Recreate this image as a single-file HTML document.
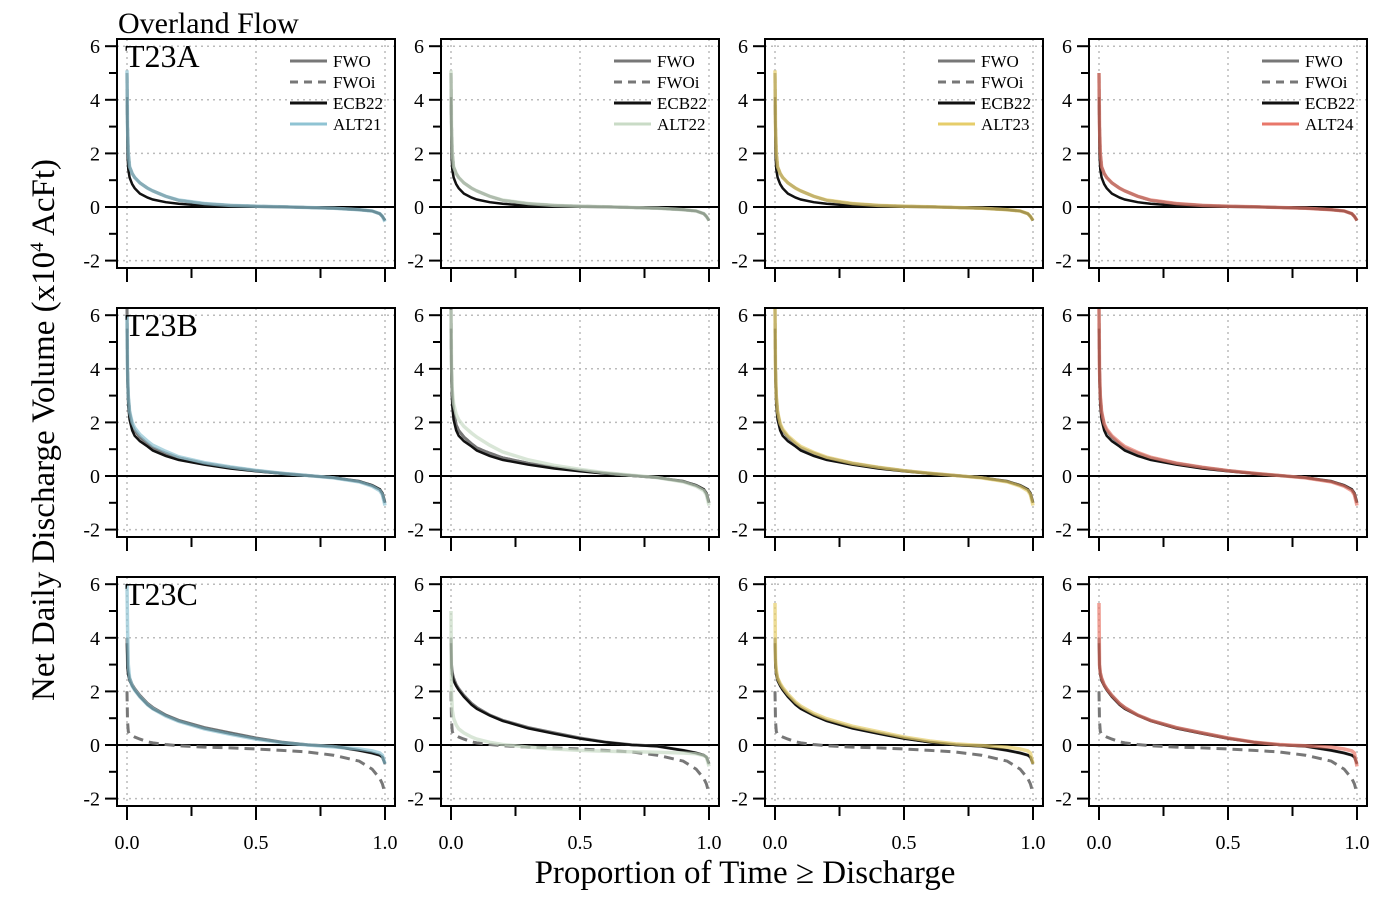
<!DOCTYPE html>
<html><head><meta charset="utf-8"><style>
body{margin:0;background:#fff}
svg{display:block;font-family:"Liberation Serif",serif}
text{font-family:"Liberation Serif",serif}
</style></head><body>
<svg id="c" width="1400" height="900"></svg>
<script>
const P = [0,0.002,0.005,0.01,0.02,0.03,0.05,0.08,0.1,0.15,0.2,0.3,0.4,0.5,0.6,0.7,0.8,0.9,0.95,0.98,0.99,1.0];
const rowNames = ["T23A","T23B","T23C"];
const altNames = ["ALT21","ALT22","ALT23","ALT24"];
const altColors = ["#8fc3d3","#c9dbc6","#e6cd6a","#e8776a"];
const yTicks = [-2,0,2,4,6];
const xTicks = [0,0.25,0.5,0.75,1];
const xLabels = ["0.0","","0.5","","1.0"];
// row 1 (T23A)
const fwoA  = [5.0,3.0,2.0,1.5,1.25,1.1,0.9,0.7,0.6,0.4,0.25,0.12,0.06,0.03,0.01,-0.02,-0.05,-0.1,-0.15,-0.25,-0.35,-0.5];
const fwoiA = [5.0,3.0,2.0,1.5,1.25,1.1,0.9,0.7,0.6,0.4,0.25,0.12,0.06,0.03,0.01,-0.02,-0.05,-0.1,-0.15,-0.25,-0.35,-0.5];
const ecbA  = [4.1,2.0,1.4,1.1,0.85,0.7,0.5,0.35,0.28,0.18,0.12,0.05,0.02,0.01,0,-0.02,-0.05,-0.1,-0.15,-0.25,-0.35,-0.5];
const altA  = [
 [5.1,3.0,2.0,1.5,1.25,1.1,0.9,0.7,0.6,0.4,0.26,0.13,0.06,0.03,0.01,-0.02,-0.05,-0.1,-0.15,-0.25,-0.35,-0.55],
 [5.1,3.0,2.0,1.5,1.25,1.1,0.9,0.7,0.6,0.4,0.26,0.13,0.06,0.03,0.01,-0.02,-0.05,-0.1,-0.15,-0.25,-0.35,-0.5],
 [5.1,3.0,2.0,1.5,1.25,1.1,0.9,0.7,0.6,0.4,0.26,0.13,0.06,0.03,0.01,-0.02,-0.05,-0.1,-0.15,-0.25,-0.35,-0.5],
 [5.0,3.0,2.0,1.5,1.25,1.1,0.9,0.7,0.6,0.4,0.26,0.13,0.06,0.03,0.01,-0.02,-0.05,-0.1,-0.15,-0.25,-0.35,-0.5]];
// row 2 (T23B)
const fwoB  = [6.3,4.0,3.0,2.4,1.9,1.7,1.45,1.2,1.05,0.85,0.68,0.47,0.32,0.2,0.1,0.02,-0.06,-0.2,-0.35,-0.5,-0.65,-1.0];
const fwoiB = [6.3,4.0,3.0,2.4,1.9,1.7,1.45,1.2,1.05,0.85,0.68,0.47,0.32,0.2,0.1,0.02,-0.06,-0.2,-0.35,-0.5,-0.65,-1.0];
const ecbB  = [5.5,3.5,2.6,2.1,1.7,1.5,1.3,1.1,0.95,0.75,0.6,0.42,0.28,0.18,0.09,0.01,-0.06,-0.2,-0.35,-0.5,-0.65,-1.0];
const altB  = [
 [6.0,4.0,3.0,2.4,2.0,1.8,1.55,1.3,1.15,0.92,0.72,0.5,0.34,0.21,0.1,0.02,-0.07,-0.22,-0.38,-0.55,-0.7,-1.1],
 [6.2,4.2,3.2,2.7,2.3,2.1,1.85,1.6,1.45,1.15,0.9,0.6,0.4,0.25,0.12,0.03,-0.06,-0.22,-0.38,-0.55,-0.7,-1.1],
 [6.3,4.0,3.0,2.4,1.95,1.75,1.5,1.25,1.1,0.88,0.7,0.48,0.33,0.2,0.1,0.02,-0.07,-0.22,-0.38,-0.55,-0.7,-1.1],
 [6.3,4.0,3.0,2.4,1.95,1.75,1.5,1.25,1.1,0.88,0.7,0.48,0.33,0.2,0.1,0.02,-0.07,-0.22,-0.38,-0.55,-0.7,-1.1]];
// row 3 (T23C)
const fwoC  = [4.0,3.0,2.7,2.5,2.25,2.1,1.85,1.55,1.4,1.12,0.92,0.65,0.45,0.26,0.11,0.01,-0.05,-0.2,-0.3,-0.38,-0.45,-0.7];
const fwoiC = [2.0,0.9,0.5,0.4,0.35,0.3,0.22,0.12,0.08,0.02,-0.03,-0.08,-0.11,-0.15,-0.2,-0.26,-0.38,-0.6,-0.9,-1.25,-1.45,-1.8];
const ecbC  = [3.8,2.9,2.6,2.4,2.2,2.05,1.8,1.5,1.35,1.1,0.9,0.62,0.42,0.24,0.1,0.0,-0.05,-0.2,-0.3,-0.38,-0.45,-0.7];
const altC  = [
 [6.0,4.5,3.0,2.5,2.2,2.05,1.8,1.5,1.35,1.08,0.88,0.6,0.4,0.22,0.09,0.0,-0.07,-0.15,-0.22,-0.3,-0.38,-0.7],
 [5.0,2.0,1.3,1.0,0.75,0.6,0.45,0.3,0.22,0.1,0.02,-0.08,-0.15,-0.2,-0.23,-0.25,-0.27,-0.3,-0.33,-0.4,-0.45,-0.8],
 [5.3,3.2,2.8,2.5,2.3,2.15,1.9,1.6,1.45,1.18,0.98,0.7,0.5,0.3,0.15,0.04,-0.02,-0.08,-0.15,-0.22,-0.3,-0.7],
 [5.3,3.0,2.7,2.5,2.25,2.1,1.85,1.55,1.4,1.12,0.92,0.65,0.45,0.26,0.11,0.02,-0.03,-0.08,-0.15,-0.22,-0.3,-0.8]];
const rows = [[fwoA,fwoiA,ecbA,altA],[fwoB,fwoiB,ecbB,altB],[fwoC,fwoiC,ecbC,altC]];

const svg = document.getElementById('c');
const NS = 'http://www.w3.org/2000/svg';
function mk(tag, attrs, parent){const e=document.createElementNS(NS,tag);for(const k in attrs)e.setAttribute(k,attrs[k]);(parent||svg).appendChild(e);return e;}
const colX=[117,441,765,1089], rowY=[39,308,577], W=278, H=229;
for(let r=0;r<3;r++)for(let c=0;c<4;c++){
  const x0=colX[c], y0=rowY[r];
  const sx=v=>x0+10+v*258;
  const sy=v=>y0+168-v*26.8;
  const g=mk('g',{});
  
  
  yTicks.forEach(t=>{ if(t!==0) mk('line',{x1:x0,x2:x0+W,y1:sy(t),y2:sy(t),stroke:'#bbb','stroke-width':1.5,'stroke-dasharray':'2,4'},g);});
  [0,0.5,1].forEach(t=>mk('line',{x1:sx(t),x2:sx(t),y1:y0,y2:y0+H,stroke:'#bbb','stroke-width':1.5,'stroke-dasharray':'2,4'},g));
  mk('line',{x1:x0,x2:x0+W,y1:sy(0),y2:sy(0),stroke:'#000','stroke-width':2},g);
  for(let t=-2;t<=6;t++){
    const maj=t%2===0;
    mk('line',{x1:x0-(maj?12:8),x2:x0,y1:sy(t),y2:sy(t),stroke:'#000','stroke-width':2},g);
  }
  yTicks.forEach(t=>{const tx=mk('text',{x:x0-17,y:sy(t)+7,'text-anchor':'end','font-size':20},g);tx.textContent=t;
    });
  xTicks.forEach((t,i)=>{
    mk('line',{x1:sx(t),x2:sx(t),y1:y0+H,y2:y0+H+(i%2?10:14),stroke:'#000','stroke-width':2},g);
    if(r===2&&xLabels[i]){const tx=mk('text',{x:sx(t),y:y0+H+43,'text-anchor':'middle','font-size':20},g);tx.textContent=xLabels[i];
      }
  });
  const [fwo,fwoi,ecb,alt]=rows[r];
  const path=arr=>arr.map((v,i)=>(i?'L':'M')+sx(P[i]).toFixed(1)+','+sy(v).toFixed(1)).join('');
  const clip='clip'+r+c;
  const cp=mk('clipPath',{id:clip},g); mk('rect',{x:x0,y:y0,width:W,height:H},cp);
  const sg=mk('g',{'clip-path':'url(#'+clip+')'},g);
  let e;
  e=mk('path',{d:path(fwo),fill:'none',stroke:'#777','stroke-width':3},sg);
  
  e=mk('path',{d:path(fwoi),fill:'none',stroke:'#777','stroke-width':3,'stroke-dasharray':'10,6'},sg);
  
  e=mk('path',{d:path(ecb),fill:'none',stroke:'#111','stroke-width':2.5},sg);
  
  e=mk('path',{d:path(alt[c]),fill:'none',stroke:altColors[c],'stroke-width':3.5,'stroke-opacity':0.7},sg);
  
  mk('rect',{x:x0,y:y0,width:W,height:H,fill:'none',stroke:'#000','stroke-width':2},g);
  if(c===0){const tx=mk('text',{x:x0+8,y:y0+28,'font-size':32},g);tx.textContent=rowNames[r];
    }
  if(r===0){
    const lg=mk('g',{},g);
    
    const names=['FWO','FWOi','ECB22',altNames[c]];
    const st=[['#777',''],['#777','8,6'],['#111',''],[altColors[c],'']];
    names.forEach((n,i)=>{
      const yy=y0+22+i*21;
      mk('line',{x1:x0+173,x2:x0+210,y1:yy,y2:yy,stroke:st[i][0],'stroke-width':3,'stroke-dasharray':st[i][1]},lg);
      const tx=mk('text',{x:x0+216,y:yy+6,'font-size':17},lg);tx.textContent=n;
      
    });
  }
}
let t=mk('text',{x:118,y:33,'font-size':30});t.textContent='Overland Flow';

t=mk('text',{x:745,y:883,'font-size':33,'text-anchor':'middle'});t.textContent='Proportion of Time ≥ Discharge';

t=mk('text',{x:0,y:0,'font-size':33,'text-anchor':'middle',transform:'translate(54,430) rotate(-90)'});
t.innerHTML='Net Daily Discharge Volume (x10<tspan dy="-11" font-size="19">4</tspan><tspan dy="11"> AcFt)</tspan>';

</script>
</body></html>
